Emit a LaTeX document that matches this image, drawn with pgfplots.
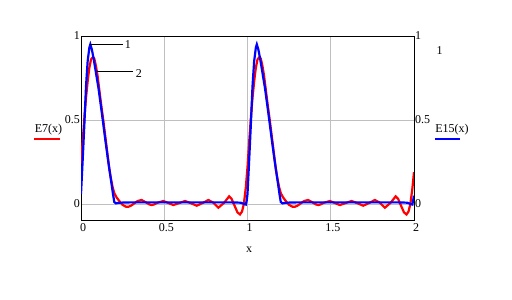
\documentclass[border=0pt]{standalone}
\usepackage{pgfplots}
\pgfplotsset{compat=1.18}
\usepackage{fontspec}
\setmainfont{Liberation Serif}
\pgfplotstableread{
x y
0.000 0.24
0.010 0.37
0.020 0.51
0.030 0.63
0.040 0.73
0.050 0.81
0.060 0.86
0.072 0.875
0.080 0.865
0.090 0.82
0.100 0.76
0.110 0.68
0.120 0.60
0.135 0.49
0.150 0.37
0.160 0.29
0.170 0.21
0.180 0.15
0.190 0.10
0.200 0.065
0.212 0.042
0.230 0.018
0.250 -0.005
0.270 -0.016
0.285 -0.016
0.300 -0.010
0.320 0.004
0.340 0.018
0.364 0.024
0.390 0.010
0.410 -0.002
0.425 -0.006
0.440 -0.002
0.460 0.008
0.495 0.018
0.525 0.006
0.555 -0.006
0.590 0.006
0.625 0.018
0.660 0.005
0.695 -0.010
0.730 0.006
0.765 0.024
0.795 0.008
0.825 -0.022
0.860 0.008
0.890 0.046
0.905 0.030
0.920 -0.005
0.940 -0.050
0.955 -0.062
0.967 -0.045
0.978 0.000
0.990 0.10
1.000 0.22
1.010 0.37
1.020 0.51
1.030 0.63
1.040 0.73
1.050 0.81
1.060 0.86
1.072 0.875
1.080 0.865
1.090 0.82
1.100 0.76
1.110 0.68
1.120 0.60
1.135 0.49
1.150 0.37
1.160 0.29
1.170 0.21
1.180 0.15
1.190 0.10
1.200 0.065
1.212 0.042
1.230 0.018
1.250 -0.005
1.270 -0.016
1.285 -0.016
1.300 -0.010
1.320 0.004
1.340 0.018
1.364 0.024
1.390 0.010
1.410 -0.002
1.425 -0.006
1.440 -0.002
1.460 0.008
1.495 0.018
1.525 0.006
1.555 -0.006
1.590 0.006
1.625 0.018
1.660 0.005
1.695 -0.010
1.730 0.006
1.765 0.024
1.795 0.008
1.825 -0.022
1.860 0.008
1.890 0.046
1.905 0.030
1.920 -0.005
1.940 -0.050
1.955 -0.062
1.967 -0.045
1.978 0.000
1.990 0.09
2.000 0.19
}\redtab
\pgfplotstableread{
x y
0.000 0.06
0.010 0.26
0.020 0.47
0.030 0.70
0.040 0.85
0.050 0.93
0.056 0.95
0.065 0.92
0.075 0.87
0.090 0.78
0.105 0.69
0.120 0.58
0.132 0.49
0.145 0.39
0.160 0.28
0.170 0.21
0.182 0.13
0.192 0.06
0.200 0.012
0.210 0.004
0.230 0.008
0.300 0.010
0.500 0.010
0.700 0.010
0.900 0.010
0.960 0.008
0.980 0.000
0.990 -0.003
0.995 0.02
1.000 0.06
1.010 0.26
1.020 0.47
1.030 0.70
1.040 0.85
1.050 0.93
1.056 0.95
1.065 0.92
1.075 0.87
1.090 0.78
1.105 0.69
1.120 0.58
1.132 0.49
1.145 0.39
1.160 0.28
1.170 0.21
1.182 0.13
1.192 0.06
1.200 0.012
1.210 0.004
1.230 0.008
1.300 0.010
1.500 0.010
1.700 0.010
1.900 0.010
1.960 0.008
1.980 0.000
1.990 -0.003
1.995 0.02
2.000 0.05
}\bluetab
\begin{document}
\fontsize{12}{14}\selectfont
\begin{tikzpicture}[x=1pt,y=1pt]
\fill[white] (0,0) rectangle (512,300);
\useasboundingbox (0,0) rectangle (512,300);
\begin{axis}[
  at={(81pt,80pt)}, anchor=south west,
  width=333pt, height=184pt, scale only axis,
  xmin=0, xmax=2, ymin=-0.095, ymax=1,
  xtick={0,0.5,1,1.5,2}, ytick={0,0.5,1},
  grid=major, grid style={draw=black!25, line width=0.7pt},
  axis line style={black, line width=0.9pt},
  tick style={draw=none},
  /pgf/number format/assume math mode=true,
  ticklabel style={font=\fontsize{12}{14}\selectfont},
  yticklabel style={xshift=3pt},
  xticklabel style={yshift=1pt, xshift=2pt},
  clip=true,
]
\addplot[red, line width=2.2pt] table {\redtab};
\addplot[blue, line width=2.2pt] table {\bluetab};
\draw[black, line width=0.7pt] (axis cs:0.056,0.95) -- (axis cs:0.25,0.95) node[right, inner sep=2pt] {1};
\draw[black, line width=0.7pt] (axis cs:0.096,0.79) -- (axis cs:0.315,0.79) node[right, inner sep=2pt, yshift=-2pt] {2};
\end{axis}
\begin{axis}[
  at={(81pt,80pt)}, anchor=south west,
  width=333pt, height=184pt, scale only axis,
  xmin=0, xmax=2, ymin=-0.095, ymax=1,
  axis x line=none, axis y line*=right,
  axis line style={black, line width=0.9pt},
  ytick={0,0.5,1}, tick style={draw=none},
  /pgf/number format/assume math mode=true,
  ticklabel style={font=\fontsize{12}{14}\selectfont},
  yticklabel style={xshift=-3pt},
]
\addplot[draw=none] coordinates {(0,0)};
\end{axis}
\node at (249,50) {x};
\node at (48.5,170) {E7(x)};
\draw[red, line width=2.2pt] (34,161) -- (60,161);
\node at (452,170) {E15(x)};
\draw[blue, line width=2.2pt] (435,161) -- (460,161);
\node at (439.5,249) {1};
\end{tikzpicture}
\end{document}
